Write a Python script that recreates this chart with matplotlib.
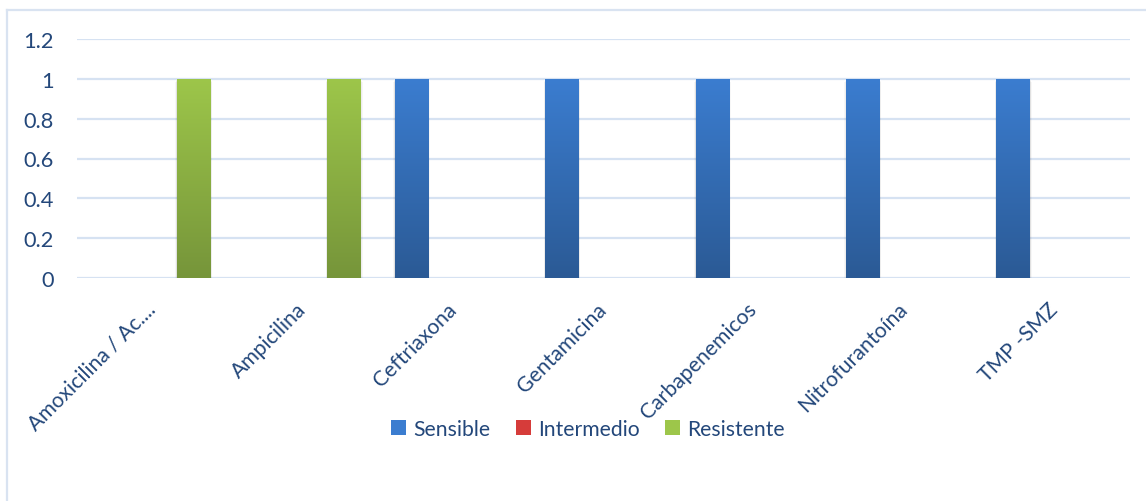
import numpy as np
import matplotlib
matplotlib.use("Agg")
import matplotlib.pyplot as plt
from matplotlib.colors import LinearSegmentedColormap
from matplotlib.lines import Line2D

categories = ["Amoxicilina / Ac....", "Ampicilina", "Ceftriaxona", "Gentamicina",
              "Carbapenemicos", "Nitrofurantoína", "TMP -SMZ"]
sensible = [0, 0, 1, 1, 1, 1, 1]
intermedio = [0, 0, 0, 0, 0, 0, 0]
resistente = [1, 1, 0, 0, 0, 0, 0]
series_names = ["Sensible", "Intermedio", "Resistente"]
yticks = [0, 0.2, 0.4, 0.6, 0.8, 1, 1.2]

plt.rcParams['font.family'] = ['Lato', 'DejaVu Sans']
text_color = '#23477A'
grid_color = '#D6E2F2'
fs = 15.2

fig = plt.figure(figsize=(11.46, 5.02), dpi=100)
ax = fig.add_axes([77/1146, 1 - 279/502, (1130-77)/1146, (279-40)/502])

# outer chart border
fig.add_artist(Line2D([7/1146, 7/1146], [0, 1 - 11/502], transform=fig.transFigure,
                      color='#D9E3F1', lw=1.6))
fig.add_artist(Line2D([7/1146, 1], [1 - 11/502, 1 - 11/502], transform=fig.transFigure,
                      color='#D9E3F1', lw=1.6))

x = np.arange(len(categories))
w = 0.223
step = 0.276
colors = [('#3B7DD0', '#2B5A95'), ('#D63C3A', '#A02A28'), ('#9DC64A', '#76953A')]
data = [sensible, intermedio, resistente]

containers = []
for i, (vals, name, (ctop, cbot)) in enumerate(zip(data, series_names, colors)):
    bc = ax.bar(x + (i - 1) * step, vals, width=w, color=ctop, label=name, zorder=3)
    containers.append((bc, ctop, cbot))

grad = np.linspace(1, 0, 256).reshape(-1, 1)
for bc, ctop, cbot in containers:
    cmap = LinearSegmentedColormap.from_list('g', [cbot, ctop])
    for rect in bc:
        h = rect.get_height()
        if h <= 0:
            continue
        x0, y0 = rect.get_x(), rect.get_y()
        wd = rect.get_width()
        # soft shadow
        for k, a in enumerate([0.05, 0.04, 0.03]):
            off = 0.006 * (k + 1)
            ax.add_patch(plt.Rectangle((x0 - off * 0.6, y0 - 0.006 * (k + 1)), wd + 2 * off * 0.6,
                                       h, color='black', alpha=a, zorder=2, lw=0))
        im = ax.imshow(grad, extent=[x0, x0 + wd, y0, y0 + h], aspect='auto',
                       cmap=cmap, zorder=4, interpolation='bilinear')
        im.set_clip_path(rect)

ax.set_xlim(-0.5, len(categories) - 0.5)
ax.set_ylim(0, 1.2)
ax.set_aspect('auto')

ax.set_yticks(yticks)
ax.set_yticklabels([f"{v:g}" for v in yticks], fontsize=fs + 0.5, color=text_color)
ax.yaxis.grid(True, color=grid_color, lw=1.6, zorder=0)
ax.set_axisbelow(True)
for s in ax.spines.values():
    s.set_visible(False)
ax.tick_params(axis='y', length=0, pad=17)
ax.tick_params(axis='x', length=0, pad=20)
ax.set_xticks(x)
ax.set_xticklabels(categories, rotation=45, ha='right', va='center',
                   rotation_mode='anchor', fontsize=fs, color=text_color)

leg = ax.legend(loc='center', bbox_to_anchor=(588/1146, 1 - 430/502),
                bbox_transform=fig.transFigure, ncol=3, frameon=False,
                fontsize=fs, handlelength=0.7, handleheight=0.7,
                handletextpad=0.35, columnspacing=1.2)
for t in leg.get_texts():
    t.set_color(text_color)

fig.savefig("out.png", dpi=100, facecolor='white')
